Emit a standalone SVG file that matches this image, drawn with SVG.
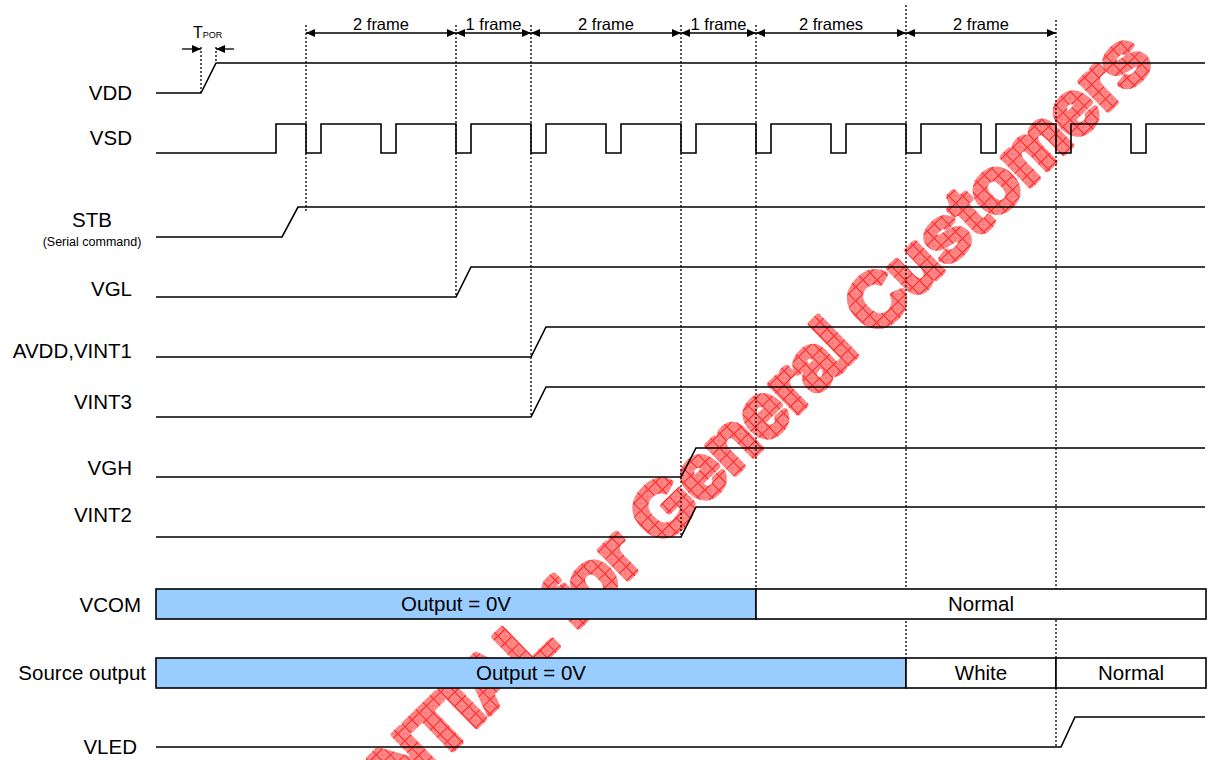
<svg xmlns="http://www.w3.org/2000/svg" width="1209" height="760" viewBox="0 0 1209 760">
<style>
text{font-family:"Liberation Sans",Arial,sans-serif;fill:#000}
.lbl{font-size:20.5px;text-anchor:end}
.box{font-size:20.5px;text-anchor:middle}
.frm{font-size:16.5px;text-anchor:middle}
.w{fill:none;stroke:#000;stroke-width:1.6;stroke-linejoin:miter}
.dot{fill:none;stroke:#000;stroke-width:1.3;stroke-dasharray:2 2}
.dim{fill:none;stroke:#000;stroke-width:1.3;marker-start:url(#ah);marker-end:url(#ah)}
.one{fill:none;stroke:#000;stroke-width:1.3;marker-end:url(#ah)}
.blue{fill:#99ccff;stroke:#000;stroke-width:1.6}
.white{fill:#fff;stroke:#000;stroke-width:1.6}
.wm{font-family:"Liberation Sans",Arial,sans-serif;font-weight:bold;font-size:75px;fill:url(#hatch);stroke:url(#hatch);stroke-width:6;stroke-linejoin:round}
</style>
<defs>
<marker id="ah" viewBox="0 0 9 8" refX="9" refY="4" markerWidth="9" markerHeight="8" markerUnits="userSpaceOnUse" orient="auto-start-reverse">
<path d="M0,0 L9,4 L0,8 z" fill="#000"/>
</marker>
<pattern id="hatch" width="10" height="10" patternUnits="userSpaceOnUse">
<rect width="10" height="10" fill="#ff8a8a"/>
<path d="M0,0.5 H10 M0.5,0 V10" stroke="#ff1010" stroke-width="0.9" fill="none"/>
<path d="M0,10 L10,0 M0,0 L10,10" stroke="#ff5a5a" stroke-width="0.5" fill="none"/>
</pattern>
</defs>
<rect width="1209" height="760" fill="#fff"/>

<g id="watermark">
<text class="wm" transform="translate(160,1035) rotate(-44.3)">CONFIDENTIAL for General Customers</text>
</g>

<g id="connectors">
<line class="dot" x1="201" y1="47" x2="201" y2="93"/>
<line class="dot" x1="216" y1="47" x2="216" y2="63"/>
<line class="dot" x1="306" y1="25" x2="306" y2="213"/>
<line class="dot" x1="456" y1="25" x2="456" y2="297"/>
<line class="dot" x1="531" y1="25" x2="531" y2="417"/>
<line class="dot" x1="681" y1="25" x2="681" y2="537"/>
<line class="dot" x1="756" y1="25" x2="756" y2="589"/>
<line class="dot" x1="906" y1="5" x2="906" y2="658"/>
<line class="dot" x1="1056" y1="20" x2="1056" y2="747"/>
<line class="one" x1="182" y1="49" x2="201" y2="49"/>
<line class="one" x1="234" y1="49" x2="216" y2="49"/>
<line class="dim" x1="306" y1="33" x2="456" y2="33"/>
<line class="dim" x1="456" y1="33" x2="531" y2="33"/>
<line class="dim" x1="531" y1="33" x2="681" y2="33"/>
<line class="dim" x1="681" y1="33" x2="756" y2="33"/>
<line class="dim" x1="756" y1="33" x2="906" y2="33"/>
<line class="dim" x1="906" y1="33" x2="1056" y2="33"/>
<text x="193" y="38" style="font-size:16px">T<tspan style="font-size:9px">POR</tspan></text>
<text class="frm" x="381" y="30">2 frame</text>
<text class="frm" x="493.5" y="30">1 frame</text>
<text class="frm" x="606" y="30">2 frame</text>
<text class="frm" x="718.5" y="30">1 frame</text>
<text class="frm" x="831" y="30">2 frames</text>
<text class="frm" x="981" y="30">2 frame</text>
</g>

<g id="VDD">
<text class="lbl" x="132" y="100">VDD</text>
<path class="w" d="M156,93 H201 L216,63 H1205"/>
</g>
<g id="VSD">
<text class="lbl" x="132" y="145">VSD</text>
<path class="w" d="M156,153 H276 V124 H306 V153 H321 V124 H381 V153 H396 V124 H456 V153 H471 V124 H531 V153 H546 V124 H606 V153 H621 V124 H681 V153 H696 V124 H756 V153 H771 V124 H831 V153 H846 V124 H906 V153 H921 V124 H981 V153 H996 V124 H1056 V153 H1071 V124 H1131 V153 H1146 V124 H1205"/>
</g>
<g id="STB">
<text x="92" y="227" style="font-size:20.5px;text-anchor:middle">STB</text>
<text x="92" y="246" style="font-size:12.5px;text-anchor:middle">(Serial command)</text>
<path class="w" d="M156,237 H282 L298,207 H1205"/>
</g>
<g id="VGL">
<text class="lbl" x="132" y="296">VGL</text>
<path class="w" d="M156,297 H456 L471,267 H1205"/>
</g>
<g id="AVDD_VINT1">
<text class="lbl" x="132" y="358">AVDD,VINT1</text>
<path class="w" d="M156,357 H531 L546,327 H1205"/>
</g>
<g id="VINT3">
<text class="lbl" x="132" y="409">VINT3</text>
<path class="w" d="M156,417 H531 L546,387 H1205"/>
</g>
<g id="VGH">
<text class="lbl" x="132" y="475">VGH</text>
<path class="w" d="M156,477 H681 L696,448 H1205"/>
</g>
<g id="VINT2">
<text class="lbl" x="132" y="522">VINT2</text>
<path class="w" d="M156,537 H681 L696,507 H1205"/>
</g>
<g id="VCOM">
<text class="lbl" x="141" y="612">VCOM</text>
<rect class="blue" x="156" y="589" width="600" height="30"/>
<rect class="white" x="756" y="589" width="450" height="30"/>
<text class="box" x="456" y="611">Output = 0V</text>
<text class="box" x="981" y="611">Normal</text>
</g>
<g id="Source_output">
<text class="lbl" x="146" y="680">Source output</text>
<rect class="blue" x="156" y="658" width="750" height="30"/>
<rect class="white" x="906" y="658" width="150" height="30"/>
<rect class="white" x="1056" y="658" width="150" height="30"/>
<text class="box" x="531" y="680">Output = 0V</text>
<text class="box" x="981" y="680">White</text>
<text class="box" x="1131" y="680">Normal</text>
</g>
<g id="VLED">
<text class="lbl" x="137" y="754">VLED</text>
<path class="w" d="M156,747 H1061 L1075,717 H1205"/>
</g>
</svg>
